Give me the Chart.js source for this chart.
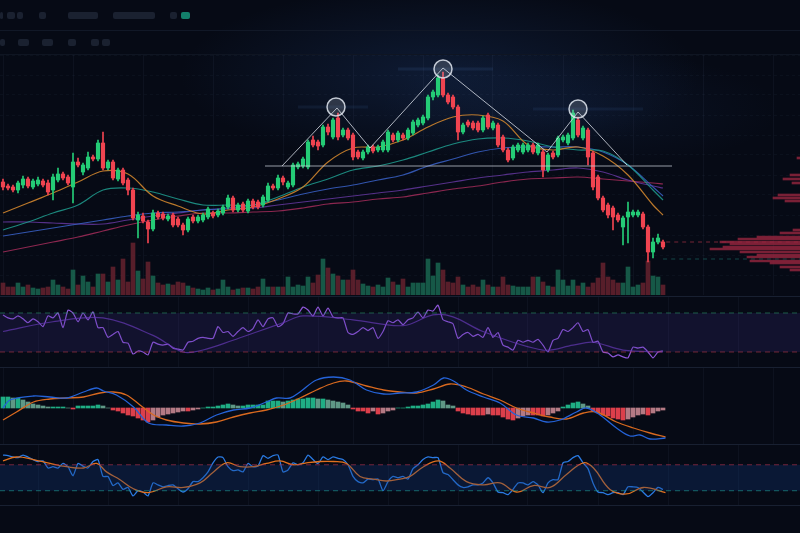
<!DOCTYPE html>
<html>
<head>
<meta charset="utf-8">
<script src="https://cdn.jsdelivr.net/npm/chart.js@4.4.1/dist/chart.umd.min.js"></script>
<style>
  html, body { margin: 0; padding: 0; }
  body {
    width: 800px; height: 533px; overflow: hidden; position: relative;
    background:
      radial-gradient(ellipse 260px 90px at 440px 75px, rgba(35,70,130,0.28), rgba(0,0,0,0)),
      radial-gradient(ellipse 200px 60px at 580px 110px, rgba(35,70,130,0.14), rgba(0,0,0,0)),
      #060a15;
  }
  .box { position: absolute; left: 0; width: 800px; }
  .hline { position: absolute; left: 0; width: 800px; height: 1px; background: #182031; }
  .btn { position: absolute; height: 7px; background: #1a2130; border-radius: 2px; }
</style>
</head>
<body>
<!-- toolbar -->
<div class="btn" style="left:0;top:12px;width:3px"></div>
<div class="btn" style="left:7px;top:12px;width:8px"></div>
<div class="btn" style="left:17px;top:12px;width:6px"></div>
<div class="btn" style="left:39px;top:12px;width:7px"></div>
<div class="btn" style="left:68px;top:12px;width:30px"></div>
<div class="btn" style="left:113px;top:12px;width:42px"></div>
<div class="btn" style="left:170px;top:12px;width:7px"></div>
<div class="btn" style="left:181px;top:12px;width:9px;background:#13806b"></div>
<div class="btn" style="left:0;top:39px;width:5px"></div>
<div class="btn" style="left:18px;top:39px;width:11px"></div>
<div class="btn" style="left:42px;top:39px;width:11px"></div>
<div class="btn" style="left:68px;top:39px;width:8px"></div>
<div class="btn" style="left:91px;top:39px;width:8px"></div>
<div class="btn" style="left:102px;top:39px;width:8px"></div>
<div class="hline" style="top:30px;background:#111827"></div>
<div class="hline" style="top:54px;background:#0f1522"></div>

<div class="box" style="top:55px;height:240px"><canvas id="main"></canvas></div>
<div style="position:absolute;left:680px;top:55px;width:120px;height:240px"><canvas id="profile"></canvas></div>
<div class="box" style="top:297px;height:70px"><canvas id="rsi"></canvas></div>
<div class="box" style="top:368px;height:76px"><canvas id="macd"></canvas></div>
<div class="box" style="top:444px;height:61px"><canvas id="stoch"></canvas></div>

<div class="hline" style="top:296px"></div>
<div class="hline" style="top:367px"></div>
<div class="hline" style="top:444px"></div>
<div class="hline" style="top:505px"></div>

<script>
// price candles (one per bar, left to right)
const opens = [118,114,113,110,115,121,113,116,119,117,
  110,120,126,123,113,138,128,132,143,141,
  157,132,138,121,130,120,110,80,84,78,
  71,87,86,81,85,81,75,70,83,79,
  80,83,87,85,87,93,102,90,96,89,
  99,98,95,100,114,112,122,113,115,133,
  134,133,160,158,155,173,163,182,165,170,
  165,148,142,148,153,150,150,150,165,160,
  165,162,167,175,177,182,203,205,222,205,
  203,193,168,178,177,177,170,185,172,175,
  163,150,142,150,148,150,155,147,148,130,
  147,145,160,157,162,180,162,170,147,123,
  102,95,92,85,73,83,85,85,86,73,
  48,58,58];
const highs = [121,116,115,119,124,123,121,123,121,120,
  126,132,128,125,147,142,137,148,145,160,
  168,140,140,132,132,122,112,88,87,80,
  90,89,88,86,87,83,77,83,85,85,
  87,93,89,91,95,105,104,97,98,101,
  101,100,105,117,116,125,124,119,137,138,
  143,160,164,160,175,176,182,187,172,172,
  167,150,150,155,155,155,160,170,167,169,
  167,172,180,182,185,205,210,225,228,207,
  205,195,177,180,179,179,184,187,179,177,
  165,152,155,157,157,157,157,157,150,147,
  149,164,165,167,190,183,174,172,149,125,
  104,97,94,87,84,98,90,90,88,75,
  62,66,60];
const lows = [110,110,108,107,112,112,111,114,113,105,
  100,118,120,115,97,133,125,130,139,139,
  130,130,120,119,115,105,80,62,77,57,
  69,81,80,79,73,73,65,68,77,77,
  78,81,82,83,85,91,88,88,88,87,
  91,91,93,98,110,110,115,111,113,131,
  132,131,153,150,153,165,161,160,163,160,
  140,141,140,146,147,148,148,148,158,158,
  160,160,165,173,175,180,200,203,203,196,
  191,160,166,173,170,168,168,171,170,153,
  148,138,140,148,146,148,146,145,123,128,
  141,143,158,155,160,163,160,135,110,100,
  88,82,70,78,55,57,83,83,71,38,
  42,56,51];
const closes = [113,112,110,117,121,114,119,120,115,108,
  123,126,122,117,138,135,135,143,141,157,
  132,138,122,130,117,110,82,85,79,71,
  87,83,82,84,75,75,70,81,79,83,
  85,91,84,89,93,102,90,95,90,99,
  93,93,103,114,112,122,118,117,135,136,
  141,158,155,154,173,168,180,163,170,162,
  143,143,148,153,149,153,158,168,160,167,
  162,170,178,180,183,203,208,222,205,198,
  193,168,175,175,172,170,182,173,177,155,
  150,140,153,155,155,155,148,155,130,145,
  143,162,163,165,187,165,172,143,113,102,
  90,85,83,80,82,88,88,88,73,48,
  58,62,53];
const volumes = [12,8,8,12,8,10,7,6,7,8,15,10,8,6,25,10,19,13,8,21,
  21,13,28,15,36,13,52,24,16,33,19,12,10,11,10,13,12,9,7,6,
  5,7,5,6,15,8,5,6,7,7,6,8,16,8,8,8,8,18,8,10,
  9,18,12,20,36,27,21,19,15,15,25,15,11,9,8,10,8,17,13,10,
  16,8,12,12,12,36,19,32,25,13,12,18,10,8,10,8,15,10,8,8,
  18,10,9,8,8,8,18,18,13,9,8,25,15,9,15,9,12,8,12,17,
  32,18,15,12,12,28,8,10,12,34,19,18,10];

// moving averages, sampled at these bar indexes
const maIdx = [0,5,10,15,20,25,30,35,40,45,50,55,60,65,70,75,80,85,90,95,100,105,110,115,120,125,130,132];
const maFast = [87,97,107,118,129,126,104,94,86,90,93,101,113,138,152,153,160,173,183,185,179,155,150,153,144,125,95,85];
const maTeal = [70,78,87,95,110,112,108,101,95,95,95,103,113,121,130,134,140,148,156,161,162,159,153,150,149,135,110,100];
const maBlue = [64,68,72,76,80,84,87,88,90,92,95,100,106,111,115,120,125,134,141,148,152,153,153,153,148,135,113,104];
const maPurple = [78,78,77,76,76,80,84,87,90,91,92,95,98,101,104,107,110,114,118,122,125,128,130,132,128,120,114,112];
const maSlow = [48,53,58,63,69,75,80,84,87,87,88,89,92,96,98,101,103,107,111,114,118,121,122,123,121,119,117,116];

// head and shoulders
const hsIdx = [55.8,66.8,73.4,88,108.8,115,124.8];
const hsPrice = [134,192,152,232,148,188,135];
const peakIdx = [66.6,88,115];
const peakPrice = [193,231,191];
const necklinePrice = 134;
const necklineFrom = 52.4, necklineTo = 133.8;
const lastPrice = 58, supportPrice = 41;

// volume profile
const vpPrice = [142,125,121,117,105,102,99,70,67,63,61,58,56,53,51,48,45,43,39,37,33,30];
const vpSize = [3,10,17,8,22,27,15,7,20,43,62,80,70,77,90,60,43,53,50,30,20,10];

// RSI
const rsiVals = [68,65,64,67,64,60,64,61,56,67,
  65,70,55,73,70,61,70,63,71,55,
  55,45,48,51,40,39,28,31,30,27,
  40,38,37,38,34,33,32,40,41,44,
  45,44,44,56,50,51,46,51,55,51,
  54,63,56,64,65,56,59,70,69,69,
  76,73,67,76,67,75,66,65,65,50,
  48,51,55,52,55,44,51,62,60,63,
  58,63,65,71,65,73,72,78,63,61,
  59,44,48,50,46,48,45,55,45,50,
  37,35,32,42,40,42,40,43,37,30,
  42,44,53,51,55,60,51,53,40,41,
  30,29,25,27,25,24,35,34,35,30,
  24,30,31];
const rsiMaIdx = [0,10,20,30,36,40,46,51,56,60,70,80,86,90,96,108,114,118,124,132];
const rsiMaVal = [51,61,65,47,30,32,42,51,60,67,63,57,68,66,51,32,37,40,32,30];
const rsiLevels = [70, 30];

// MACD
const macdHist = [11,11,10,10,8,6,4,3,2,1,
  1,1,1,0,-1,2,2,2,2,3,
  2,0,-2,-3,-5,-7,-8,-10,-12,-14,
  -12,-9,-7,-6,-5,-4,-3,-3,-2,-1,
  0,1,1,2,3,4,3,2,2,3,
  3,3,3,7,7,7,6,7,8,9,
  9,10,10,9,9,8,7,6,5,3,
  -1,-3,-3,-5,-3,-6,-5,-3,-2,0,
  0,1,2,2,3,4,6,8,7,3,
  2,-3,-5,-6,-7,-7,-7,-6,-7,-7,
  -9,-11,-12,-10,-8,-7,-7,-7,-8,-7,
  -5,-3,1,3,5,6,4,2,-3,-5,
  -7,-8,-10,-11,-12,-11,-9,-7,-6,-7,
  -5,-3,-2];
const macdIdx = [0,1.4,6.1,9.4,12.7,16.1,18.7,20.1,22.7,26.1,29.1,32.7,36.1,39.4,42.7,46.1,49.4,52.7,54.7,57.4,59.4,62.7,66.1,69.4,72.7,76.1,79.4,82.7,86.1,88.1,90.1,92.7,96.1,99.4,102.7,106.1,108.7,111.4,114.7,116.7,119.4,122.7,125.4,127.4,129.4,132.5];
const macdVal = [0,8,12,11,10,16,20,17,13,1,-15,-17,-18,-15,-7,-2,0,6,10,10,16,28,31,28,18,14,15,16,23,30,27,18,11,5,-7,-10,-14,-12,-4,0,-7,-20,-28,-27,-31,-30];
const signalIdx = [0,2.7,6.1,9.4,12.7,16.1,19.4,22.1,24.7,27.4,30.1,32.7,36.1,39.4,42.7,46.1,49.4,52.7,56.1,59.4,62.7,66.1,68.7,72.7,76.1,79.4,82.7,86.1,89.4,92.7,96.1,99.4,102.7,106.1,109.4,112.7,116.1,118.7,122.7,126.1,129.4,132.5];
const signalVal = [-12,-4,6,9,10,11,15,16,13,3,-7,-12,-15,-16,-14,-9,-5,-2,3,10,18,25,27,22,18,16,15,19,24,21,14,8,0,-5,-9,-11,-5,-4,-14,-20,-25,-29];

// stochastic
const stochK = [85,84,82,81,85,82,78,75,76,65,
  67,65,72,67,53,72,68,65,75,78,
  52,52,38,42,32,35,22,30,28,22,
  42,39,36,38,39,33,28,33,44,44,
  50,59,73,82,81,67,61,62,59,72,
  67,68,84,80,84,85,59,62,73,70,
  73,85,78,72,82,78,82,80,78,70,
  52,44,42,48,47,48,30,44,52,50,
  52,48,64,70,78,82,81,81,58,55,
  47,39,35,36,39,39,42,50,42,28,
  27,24,32,42,42,39,44,39,27,42,
  47,47,73,75,81,84,73,64,42,28,
  27,24,27,27,24,36,36,35,28,21,
  27,35,32];
const stochDIdx = [0,2.7,6.1,9.4,12.7,16.1,18.7,20.7,23.4,26.1,29.1,32.7,36.1,39.4,42.1,44.7,47.4,50.1,52.7,55.4,58.1,60.7,63.4,66.1,68.7,71.4,74.1,76.7,79.4,81.4,84.1,87.1,89.4,92.7,96.1,99.4,102.7,106.1,109.4,112.7,116.1,118.1,121.4,124.7,128.1,132.5];
const stochDVal = [76,82,78,72,67,65,72,59,47,33,27,36,35,42,59,73,67,67,72,76,70,73,75,75,72,52,48,45,48,52,67,76,65,44,39,42,28,38,35,55,73,65,32,25,35,27];
const stochLevels = [70, 30];

// ---------- helpers ----------
const X_MIN = -0.6, X_MAX = 159.4;
const gridIdx = [7,21,35,49,63,77,91,105,119,133,147];
const GREEN = '#24cc76', RED = '#f04450';

const pts = (xs, ys) => xs.map((x, k) => ({ x, y: ys[k] }));
const series = ys => ys.map((y, i) => ({ x: i, y }));
const flat = (v, a = X_MIN, b = X_MAX) => [{ x: a, y: v }, { x: b, y: v }];

function xScale() {
  return {
    type: 'linear', min: X_MIN, max: X_MAX, offset: false,
    afterBuildTicks: s => { s.ticks = gridIdx.map(v => ({ value: v })); },
    ticks: { display: false },
    grid: { color: 'rgba(110,130,170,0.07)', drawTicks: false },
    border: { display: false }
  };
}
function baseOpts(scales) {
  return {
    responsive: true, maintainAspectRatio: false, animation: false,
    layout: { padding: 0, autoPadding: false },
    plugins: { legend: { display: false }, tooltip: { enabled: false } },
    scales
  };
}
function line(data, color, width, extra) {
  return Object.assign({ type: 'line', data, borderColor: color, borderWidth: width,
    pointRadius: 0, fill: false, tension: 0.35 }, extra || {});
}

const isUp = opens.map((o, i) => closes[i] >= o);
const candleColor = isUp.map(u => u ? GREEN : RED);

// ---------- main price chart ----------
new Chart(document.getElementById('main'), {
  type: 'bar',
  data: {
    datasets: [
      line(pts(peakIdx, peakPrice), 'rgba(225,230,240,0.85)', 1, {
        showLine: false, pointRadius: 9, pointBorderWidth: 1.5,
        pointBackgroundColor: 'rgba(210,220,235,0.18)', pointBorderColor: 'rgba(225,230,240,0.85)', order: 0 }),
      line(pts(hsIdx, hsPrice), 'rgba(215,220,230,0.8)', 1, { tension: 0, order: 1 }),
      line(flat(necklinePrice, necklineFrom, necklineTo), 'rgba(200,205,215,0.75)', 1, { tension: 0, order: 1 }),
      { type: 'bar', data: opens.map((o, i) => ({ x: i, y: [o, closes[i]] })),
        backgroundColor: candleColor, barThickness: 3.5, grouped: false, order: 2 },
      { type: 'bar', data: highs.map((h, i) => ({ x: i, y: [lows[i], h] })),
        backgroundColor: candleColor, barThickness: 1, grouped: false, order: 3 },
      line(pts(maIdx, maFast), 'rgba(206,132,45,0.9)', 1.2, { order: 4 }),
      line(pts(maIdx, maTeal), 'rgba(32,158,143,0.85)', 1.2, { order: 4 }),
      line(pts(maIdx, maBlue), 'rgba(58,98,200,0.85)', 1.2, { order: 4 }),
      line(pts(maIdx, maPurple), 'rgba(112,62,176,0.75)', 1.2, { order: 4 }),
      line(pts(maIdx, maSlow), 'rgba(165,45,90,0.85)', 1.2, { order: 4 }),
      line(flat(231, 79, 98), 'rgba(80,130,200,0.12)', 3, { order: 5 }),
      line(flat(193, 59, 73), 'rgba(80,130,200,0.1)', 3, { order: 5 }),
      line(flat(191, 106, 128), 'rgba(80,130,200,0.1)', 3, { order: 5 }),
      line(flat(lastPrice, 131, X_MAX), 'rgba(210,60,80,0.55)', 1, { borderDash: [4, 4], order: 5 }),
      line(flat(supportPrice, 132, X_MAX), 'rgba(40,160,150,0.4)', 1, { borderDash: [4, 4], order: 5 }),
      { type: 'bar', yAxisID: 'yv', data: series(volumes),
        backgroundColor: isUp.map(u => u ? 'rgba(28,115,88,0.75)' : 'rgba(115,38,50,0.75)'),
        barThickness: 4, grouped: false, order: 6 }
    ]
  },
  options: baseOpts({
    x: xScale(),
    y: { min: 5, max: 245, ticks: { display: false, stepSize: 20 },
         grid: { color: 'rgba(110,130,170,0.06)', drawTicks: false },
         border: { display: false, dash: [3, 3] } },
    yv: { display: false, min: 0, max: 240 }
  })
});

// ---------- volume profile ----------
new Chart(document.getElementById('profile'), {
  type: 'bar',
  data: { datasets: [{ data: pts(vpSize, vpPrice),
    backgroundColor: 'rgba(150,38,62,0.8)', barThickness: 2 }] },
  options: Object.assign(baseOpts({
    x: { display: false, min: 0, max: 120, reverse: true },
    y: { display: false, type: 'linear', min: 5, max: 245, offset: false }
  }), { indexAxis: 'y' })
});

// ---------- RSI ----------
new Chart(document.getElementById('rsi'), {
  type: 'line',
  data: { datasets: [
    line(flat(rsiLevels[0]), 'rgba(46,160,110,0.55)', 1, { borderDash: [5, 4], tension: 0 }),
    line(flat(rsiLevels[1]), 'rgba(200,60,75,0.55)', 1, { borderDash: [5, 4], tension: 0,
      fill: '-1', backgroundColor: 'rgba(72,48,150,0.2)' }),
    line(pts(rsiMaIdx, rsiMaVal), 'rgba(110,60,190,0.7)', 1.2),
    line(series(rsiVals), '#8d56d8', 1.2, { tension: 0.2 })
  ] },
  options: baseOpts({ x: xScale(), y: { display: false, min: 14.6, max: 86.4 } })
});

// ---------- MACD ----------
const histColor = macdHist.map((v, i) => {
  const prev = i ? macdHist[i - 1] : v;
  if (v >= 0) return v >= prev ? '#1fae84' : 'rgba(125,200,172,0.75)';
  return v <= prev ? '#dc3f4b' : 'rgba(222,150,160,0.8)';
});
new Chart(document.getElementById('macd'), {
  type: 'bar',
  data: { datasets: [
    line(pts(macdIdx, macdVal), '#2563d8', 1.3, { order: 0 }),
    line(pts(signalIdx, signalVal), '#d8691f', 1.3, { order: 1 }),
    { type: 'bar', data: series(macdHist), backgroundColor: histColor, barThickness: 4, order: 2 }
  ] },
  options: baseOpts({ x: xScale(), y: { display: false, min: -36, max: 40 } })
});

// ---------- Stochastic ----------
new Chart(document.getElementById('stoch'), {
  type: 'line',
  data: { datasets: [
    line(flat(stochLevels[0]), 'rgba(190,50,80,0.6)', 1, { borderDash: [5, 4], tension: 0 }),
    line(flat(stochLevels[1]), 'rgba(30,160,150,0.6)', 1, { borderDash: [5, 4], tension: 0,
      fill: '-1', backgroundColor: 'rgba(20,60,130,0.3)' }),
    line(pts(stochDIdx, stochDVal), '#e0701e', 1.3, { tension: 0.4 }),
    line(series(stochK), '#2a7be4', 1.3, { tension: 0.2 })
  ] },
  options: baseOpts({ x: xScale(), y: { display: false, min: 8, max: 102 } })
});
</script>
</body>
</html>
